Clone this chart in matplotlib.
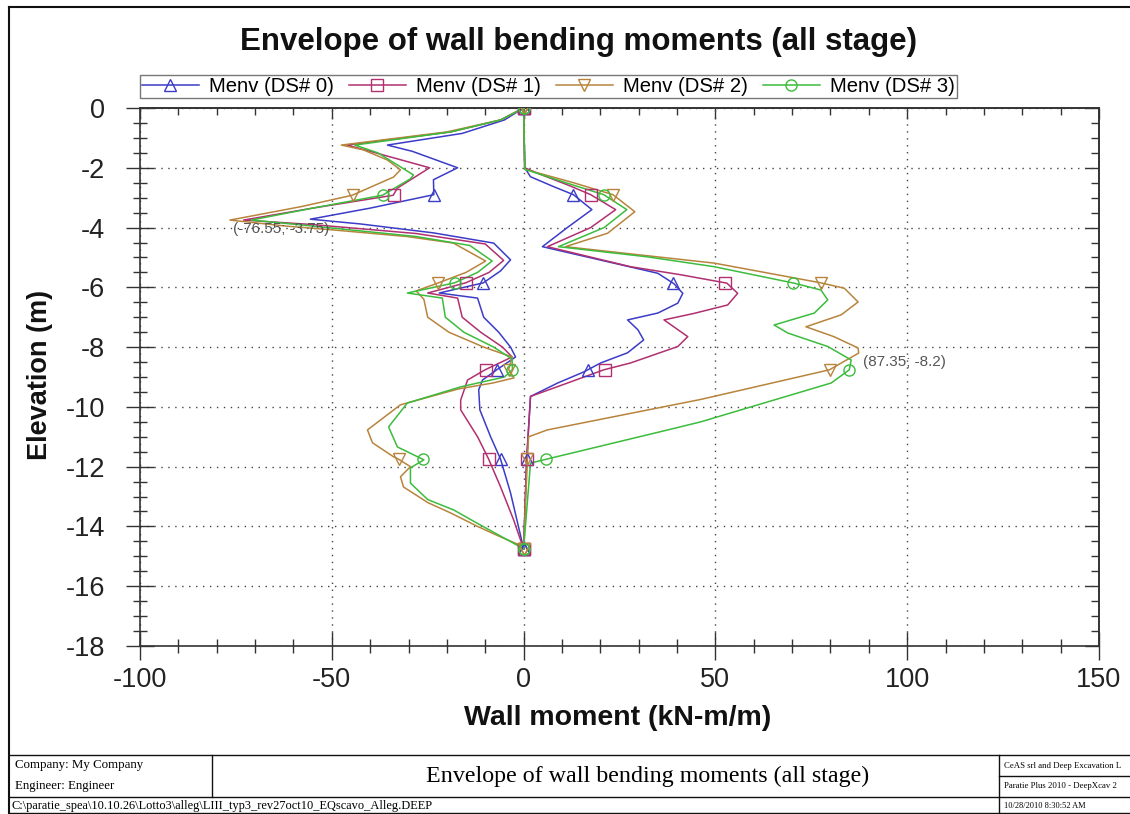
import numpy as np
import matplotlib
matplotlib.use('Agg')
import matplotlib.pyplot as plt
from matplotlib.ticker import MultipleLocator
from matplotlib.lines import Line2D

plt.rcParams['font.family'] = ['Liberation Sans', 'DejaVu Sans']

# ---------------- data ----------------
series_labels = ['Menv (DS# 0)', 'Menv (DS# 1)', 'Menv (DS# 2)', 'Menv (DS# 3)']
series_colors = ['#3c3cc8', '#b03070', '#b8843c', '#3cbc3c']
series_markers = ['^', 's', 'v', 'o']
marker_elev = [0, -2.9, -5.85, -8.75, -11.75, -14.75]

# DS# 0 (negative envelope / positive envelope)
ds0_neg_elev = [0, -0.4, -0.85, -1.24, -1.45, -2.0, -2.4, -2.9, -3.35, -3.72, -3.88, -4.18, -4.52, -5.08,
                -5.45, -5.85, -6.19, -6.36, -7.0, -7.5, -8.0, -8.33, -8.75, -9.1, -9.43, -10.1, -11.0,
                -11.75, -12.88, -14.3, -14.75]
ds0_neg_m = [0, -5, -16, -35.5, -29, -17.2, -23.5, -23.4, -40, -55.6, -42.5, -23.4, -7.8, -3.4,
             -6, -10.5, -22, -12, -10.4, -6.5, -3.4, -2.1, -6.9, -10.7, -11.7, -11.4, -8.6,
             -6, -3.4, -0.8, 0]
ds0_pos_elev = [0, -2.0, -2.3, -2.63, -2.9, -3.4, -4.0, -4.64, -5.19, -5.53, -5.88, -6.2, -6.53, -6.86,
                -7.09, -7.42, -7.76, -8.19, -8.53, -8.83, -9.2, -9.65, -11.75, -14.75]
ds0_pos_m = [0, 0.3, 1.8, 7.8, 13, 17.8, 11.4, 4.9, 23.5, 35, 39.2, 41.5, 40.2, 35,
             27.1, 29.8, 31.3, 27.1, 20.1, 15.7, 8.9, 1.8, 0.8, 0]

# DS# 1
ds1_neg_elev = [0, -0.4, -0.8, -1.24, -1.45, -2.0, -2.68, -2.92, -3.35, -3.75, -3.9, -4.2, -4.55, -5.1,
                -5.5, -5.85, -6.19, -6.36, -7.0, -7.5, -8.0, -8.33, -8.75, -9.1, -9.77, -10.1, -11.0,
                -11.75, -12.68, -13.78, -14.75]
ds1_neg_m = [0, -6, -19, -46, -40, -24.5, -32.9, -34, -55, -73, -55, -28, -10, -5.2,
             -9, -15.1, -25, -17.2, -16, -11.2, -5.5, -3, -9.9, -14.6, -16.4, -16.4, -12,
             -9.1, -6, -2.6, 0]
ds1_pos_elev = [0, -2.0, -2.2, -2.6, -2.9, -3.4, -4.0, -4.64, -5.31, -5.58, -5.86, -6.2, -6.59, -6.87,
                -7.09, -7.65, -7.98, -8.53, -8.76, -9.32, -9.65, -11.75, -14.75]
ds1_pos_m = [0, 0.3, 4, 12, 17.5, 24, 17.5, 6.2, 27.9, 41, 53, 55.8, 53.2, 44.5,
             36.6, 42.8, 40.2, 27.9, 20.9, 8.9, 1.8, 0.8, 0]

# DS# 2
ds2_neg_elev = [0, -0.4, -0.8, -1.24, -1.4, -1.74, -2.07, -2.31, -2.92, -3.3, -3.75, -3.95, -4.08, -4.3,
                -4.52, -5.12, -5.5, -5.85, -6.12, -6.4, -7.0, -7.5, -8.0, -8.33, -8.75, -9.03, -9.2,
                -9.4, -9.93, -10.77, -11.2, -11.67, -11.75, -12.0, -12.34, -12.68, -13.2, -13.55,
                -14.0, -14.35, -14.65, -14.75]
ds2_neg_m = [0, -6, -20, -47.5, -41.8, -35.5, -32.1, -33.9, -44.7, -58, -76.55, -62, -49.6, -30.4,
             -18.3, -9.9, -15, -22.2, -28, -26, -25, -19.5, -10.4, -3, -3.9, -2.5, -8,
             -17, -32.1, -40.7, -39.4, -33.9, -32.6, -29.5, -32.1, -31.3, -25, -19,
             -12, -6, -0.5, 0]
ds2_pos_elev = [0, -2.05, -2.5, -2.9, -3.47, -4.19, -4.64, -5.19, -5.85, -6.03, -6.49, -6.92, -7.32,
                -7.65, -8.03, -8.2, -8.76, -9.75, -10.77, -11.0, -11.75, -14.75]
ds2_pos_m = [0, 0.3, 13, 23.3, 29, 21.9, 10.9, 49.7, 77.5, 83.6, 87.2, 82.8, 73.6,
             80.9, 87.2, 87.35, 79.7, 46.2, 6.2, 1.3, 1.0, 0]

# DS# 3
ds3_neg_elev = [0, -0.4, -0.8, -1.24, -1.5, -2.24, -2.37, -2.92, -3.35, -3.75, -3.95, -4.3, -4.6, -5.12,
                -5.5, -5.85, -6.19, -6.36, -7.0, -7.5, -8.0, -8.4, -8.75, -9.0, -9.33, -9.87, -10.67,
                -11.34, -11.77, -12.04, -12.55, -13.1, -13.45, -13.9, -14.45, -14.75]
ds3_neg_m = [0, -6, -19, -44, -38, -28.7, -29.5, -36.8, -55, -71, -55, -28, -14, -8.2,
             -12, -18, -30.3, -21.2, -20.4, -15.6, -7.8, -3, -2.9, -5, -16.4, -30.3, -35.2,
             -32.9, -26, -29.5, -29.5, -25, -18.2, -12, -4.2, 0]
ds3_pos_elev = [0, -2.05, -2.5, -2.9, -3.4, -4.0, -4.64, -4.98, -5.31, -5.86, -6.09, -6.42, -6.86,
                -7.26, -7.53, -7.98, -8.43, -8.76, -9.2, -10.5, -10.77, -11.77, -11.88, -14.75]
ds3_pos_m = [0, 0.3, 11, 20.9, 26.9, 21, 9.1, 32.3, 49.7, 70.5, 77.5, 79.3, 75.8,
             65.3, 68.9, 79.3, 85.4, 84.9, 80.2, 46.2, 37.6, 5.3, 1.8, 0]

peak_neg = (-76.55, -3.75)
peak_pos = (87.35, -8.2)

title = 'Envelope of wall bending moments (all stage)'
x_label = 'Wall moment (kN-m/m)'
y_label = 'Elevation (m)'
x_ticks = [-100, -50, 0, 50, 100, 150]
y_ticks = [0, -2, -4, -6, -8, -10, -12, -14, -16, -18]

footer_company = 'Company: My Company'
footer_engineer = 'Engineer: Engineer'
footer_path = r'C:\paratie_spea\10.10.26\Lotto3\alleg\LIII_typ3_rev27oct10_EQscavo_Alleg.DEEP'
footer_vendor = 'CeAS srl and Deep Excavation L'
footer_product = 'Paratie Plus 2010 - DeepXcav 2'
footer_date = '10/28/2010 8:30:52 AM'

branches = [
    [(ds0_neg_elev, ds0_neg_m), (ds0_pos_elev, ds0_pos_m)],
    [(ds1_neg_elev, ds1_neg_m), (ds1_pos_elev, ds1_pos_m)],
    [(ds2_neg_elev, ds2_neg_m), (ds2_pos_elev, ds2_pos_m)],
    [(ds3_neg_elev, ds3_neg_m), (ds3_pos_elev, ds3_pos_m)],
]

# ---------------- figure ----------------
W, H = 1130, 814
fig = plt.figure(figsize=(W / 100, H / 100), dpi=100)
fig.patch.set_facecolor('white')


def fx(px):
    return px / W


def fy(py):
    return 1 - py / H


ax = fig.add_axes([fx(140), fy(646), (1099 - 140) / W, (646 - 108) / H])
ax.set_xlim(-100, 150)
ax.set_ylim(-18, 0)

handles = []
for k in range(4):
    c = series_colors[k]
    mk = series_markers[k]
    for elev, m in branches[k]:
        e = np.array(elev, dtype=float)
        v = np.array(m, dtype=float)
        ax.plot(v, e, color=c, lw=1.1, zorder=3)
        me = np.array(marker_elev, dtype=float)
        mv = np.interp(me, e[::-1], v[::-1])
        ax.plot(mv, me, linestyle='none', marker=mk, markersize=8,
                markerfacecolor='none', markeredgecolor=c, markeredgewidth=1.0, zorder=4)
    handles.append(Line2D([], [], color=c, lw=1.1, marker=mk, markersize=8,
                          markerfacecolor='none', markeredgecolor=c, markeredgewidth=1.0))

ax.set_xticks(x_ticks)
ax.set_yticks(y_ticks)
ax.set_xticklabels([str(t) for t in x_ticks])
ax.set_yticklabels([str(t) for t in y_ticks])
ax.xaxis.set_minor_locator(MultipleLocator(10))
ax.yaxis.set_minor_locator(MultipleLocator(0.5))
ax.tick_params(which='major', direction='inout', length=20, width=1.0, color='#333',
               labelsize=19.5, labelcolor='#222')
ax.tick_params(which='minor', direction='inout', length=10, width=1.0, color='#333')
ax.tick_params(axis='y', pad=15)
ax.tick_params(axis='x', pad=5)
ax.grid(which='major', linestyle=(0, (1, 4)), color='#444', lw=1.0, zorder=1)
for s in ax.spines.values():
    s.set_color('#333')
    s.set_linewidth(1.2)

secx = ax.secondary_xaxis('top')
secx.set_xticks(x_ticks)
secx.xaxis.set_minor_locator(MultipleLocator(10))
secx.tick_params(which='major', direction='in', length=8, width=1.0, color='#333', labeltop=False)
secx.tick_params(which='minor', direction='in', length=5, width=1.0, color='#333')
secx.spines['top'].set_color('#333')
secx.spines['top'].set_linewidth(1.2)

secy = ax.secondary_yaxis('right')
secy.set_yticks(y_ticks)
secy.yaxis.set_minor_locator(MultipleLocator(0.5))
secy.tick_params(which='major', direction='in', length=10, width=1.0, color='#333', labelright=False)
secy.tick_params(which='minor', direction='in', length=6, width=1.0, color='#333')
secy.spines['right'].set_color('#333')
secy.spines['right'].set_linewidth(1.2)

ax.text(-75.7, -4.05, '(%.2f; %.2f)' % peak_neg, fontsize=11, color='#555', ha='left', va='center', zorder=5)
ax.text(88.5, -8.5, '(%.2f; %.1f)' % peak_pos, fontsize=11, color='#555', ha='left', va='center', zorder=5)

# titles & labels
fig.text(fx(578), fy(42), title, ha='center', va='center', fontsize=22.5, fontweight='bold', color='#111')
fig.text(fx(40), fy(375), y_label, ha='center', va='center', rotation=90, fontsize=19.5,
         fontweight='bold', color='#111')
fig.text(fx(618), fy(718), x_label, ha='center', va='center', fontsize=20.5, fontweight='bold', color='#111')

leg = fig.legend(handles, series_labels, ncol=4, loc='lower left',
                 bbox_to_anchor=(fx(140), fy(98)), fontsize=14.6, frameon=True, fancybox=False,
                 handlelength=2.8, handletextpad=0.5, columnspacing=0.75, borderpad=0.1,
                 borderaxespad=0)
leg.get_frame().set_edgecolor('#555')
leg.get_frame().set_linewidth(1.0)

# page border and bottom info table
def hline(y, x0, x1, lw=1.0):
    fig.add_artist(Line2D([fx(x0), fx(x1)], [fy(y), fy(y)], color='#111', lw=lw))


def vline(x, y0, y1, lw=1.0):
    fig.add_artist(Line2D([fx(x), fx(x)], [fy(y0), fy(y1)], color='#111', lw=lw))


hline(7, 9, 1130, 1.5)
vline(9, 7, 814, 1.5)
hline(755, 9, 1130)
hline(797, 9, 1130)
hline(776, 999, 1130)
hline(813, 9, 1130)
vline(212, 755, 797)
vline(999, 755, 814)

serif = ['Liberation Serif', 'DejaVu Serif']
fig.text(fx(15), fy(765), footer_company, fontsize=9.3, family=serif, va='center', ha='left')
fig.text(fx(15), fy(786), footer_engineer, fontsize=9.3, family=serif, va='center', ha='left')
fig.text(fx(12), fy(805.5), footer_path, fontsize=8.9, family=serif, va='center', ha='left')
fig.text(fx(648), fy(776), title, fontsize=17.3, family=serif, va='center', ha='center')
fig.text(fx(1004), fy(765.5), footer_vendor, fontsize=6.3, family=serif, va='center', ha='left')
fig.text(fx(1004), fy(786.5), footer_product, fontsize=6.3, family=serif, va='center', ha='left')
fig.text(fx(1004), fy(805.5), footer_date, fontsize=6.0, family=serif, va='center', ha='left')

fig.savefig('out.png', dpi=100, facecolor='white')
